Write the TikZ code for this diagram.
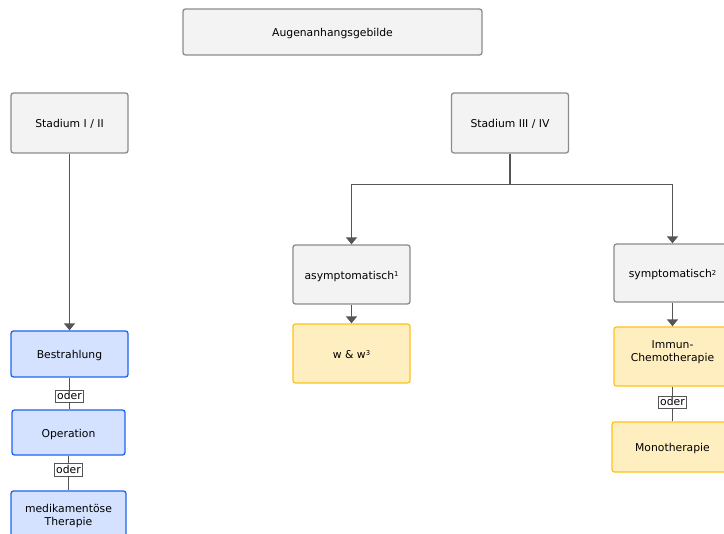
\documentclass[tikz,border=0pt]{standalone}
\usepackage{fontspec}
\setmainfont{DejaVu Sans}
\usetikzlibrary{arrows.meta}
\definecolor{grayfill}{RGB}{243,243,243}
\definecolor{grayline}{RGB}{140,140,140}
\definecolor{bluefill}{RGB}{212,226,255}
\definecolor{blueline}{RGB}{30,100,240}
\definecolor{yellowfill}{RGB}{255,239,192}
\definecolor{yellowline}{RGB}{255,194,26}
\definecolor{conncol}{RGB}{85,85,85}
\newcommand\mysupx[1]{\raisebox{2.6pt}{\fontsize{6.8}{7}\selectfont #1}}
\tikzset{
  boxbase/.style={rounded corners=2.5pt, line width=1.3pt, align=center,
    font=\fontsize{10.8}{13}\selectfont, inner sep=2pt, text height=10pt, text depth=0pt},
  graybox/.style={boxbase, draw=grayline, fill=grayfill},
  bluebox/.style={boxbase, draw=blueline, fill=bluefill},
  yellowbox/.style={boxbase, draw=yellowline, fill=yellowfill},
  conn/.style={draw=conncol, line width=1.6pt},
  arr/.style={conn, -{Triangle[width=11pt,length=7pt]}},
  oderlabel/.style={draw=conncol, fill=white, line width=1pt, inner sep=1.3pt,
    font=\fontsize{10.8}{12}\selectfont, text height=7.8pt, text depth=2.2pt}
}
\begin{document}
\begin{tikzpicture}[x=1pt,y=-1pt]
\useasboundingbox (0,0) rectangle (724,534);
\fill[white] (0,0) rectangle (724,534);

\node[graybox, minimum width=299pt, minimum height=46pt] (root) at (332.5,32) {Augenanhangsgebilde};
\node[graybox, minimum width=117pt, minimum height=60pt] (s12) at (69.5,123) {Stadium I / II};
\node[graybox, minimum width=117pt, minimum height=60pt] (s34) at (510,123) {Stadium III / IV};
\node[graybox, minimum width=117pt, minimum height=59pt] (asym) at (351.5,274.5) {asymptomatisch\mysupx{1}};
\node[graybox, minimum width=117pt, minimum height=58pt] (sym) at (672.5,273) {symptomatisch\mysupx{2}};
\node[yellowbox, minimum width=117pt, minimum height=59pt] (ww) at (351.5,353.5) {w \& w\mysupx{3}};
\node[yellowbox, minimum width=117pt, minimum height=59pt] (immun) at (672.5,356.5) {Immun-\\Chemotherapie};
\node[yellowbox, minimum width=121pt, minimum height=50pt] (mono) at (672.5,447) {Monotherapie};
\node[bluebox, minimum width=117pt, minimum height=46pt] (best) at (69.5,354) {Bestrahlung};
\node[bluebox, minimum width=113pt, minimum height=45pt] (op) at (68.5,432.5) {Operation};
\node[bluebox, minimum width=115pt, minimum height=59pt] (med) at (68.5,520.5) {medikamentöse\\Therapie};

\draw[arr] (s12.south) -- (best.north);
\draw[arr] (s34.south) -- ++(0,31) -| (asym.north);
\draw[arr] (s34.south) -- ++(0,31) -| (sym.north);
\draw[arr] (asym.south) -- (ww.north);
\draw[arr] (sym.south) -- (immun.north);

\draw[conn] (best.south) -- node[oderlabel, pos=0.6] (o1) {oder} (best.south |- op.north);
\draw[conn] (op.south) -- node[oderlabel, pos=0.42] (o2) {oder} (op.south |- med.north);
\draw[conn] (immun.south) -- node[oderlabel, pos=0.46] (o3) {oder} (immun.south |- mono.north);
\end{tikzpicture}
\end{document}
